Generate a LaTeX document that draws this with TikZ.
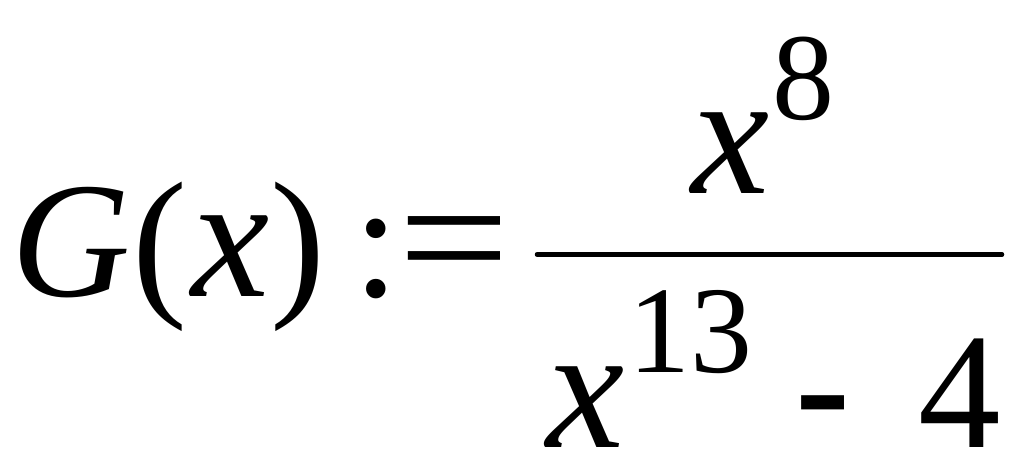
\documentclass[tikz,border=0pt]{standalone}
\usepackage{fontspec}
\usepackage{graphicx}
\setmainfont{Liberation Serif}
\begin{document}
\begin{tikzpicture}[x=1pt,y=-1pt,
  gl/.style={anchor=base west,inner sep=0pt,outer sep=0pt},
  big/.style={gl,font=\fontsize{165}{165}\selectfont},
  bx/.style={gl,font=\fontsize{176}{176}\selectfont\itshape},
  sup/.style={gl,font=\fontsize{124}{124}\selectfont}]
\useasboundingbox[fill=white] (0,0) rectangle (1024,469);
\node[big] (G) at (12,296) {\itshape G};
\node[big] (lp) at (132,296) {(};
\node[bx] (x1) at (191,296) {x};
\node[big] (rp) at (270,296) {)};
\node[big] (col) at (353,296) {:};
\node[big] (eq) at (398,296) {\scalebox{1.2}[1.06]{=}};
\node[bx] (nx) at (691,193) {x};
\node[sup] (n8) at (772,119) {8};
\node[bx] (dx) at (546,447) {x};
\node[sup] (d13) at (628,372) {13};
\node[big] (mn) at (795,447) {\scalebox{1}[1.15]{-}};
\node[big] (d4) at (918,447) {4};
\coordinate (b1) at (537,254.5);
\coordinate (b2) at (1002,254.5);
\draw[line width=4.5pt,line cap=round] (b1) -- (b2);
\end{tikzpicture}
\end{document}
